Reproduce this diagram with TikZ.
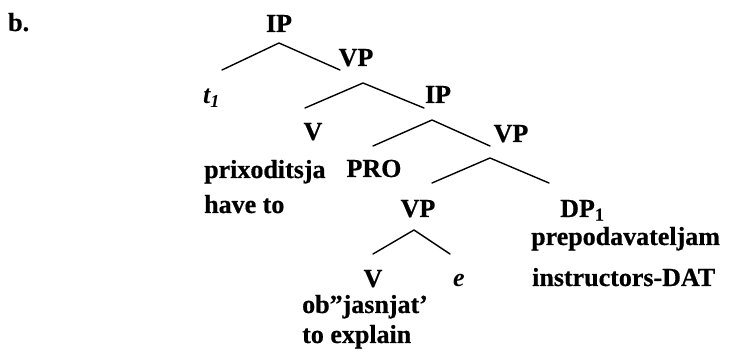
\documentclass[tikz,border=0pt]{standalone}
\usepackage{fontspec}
\setmainfont{Liberation Serif}[BoldFeatures={FakeBold=0.6}]
\begin{document}
\begin{tikzpicture}[x=1pt,y=-1pt,
  lab/.style={inner sep=0pt,anchor=base,font=\fontsize{26}{30}\selectfont\bfseries},
  labl/.style={lab,anchor=base west},
  branch/.style={line width=1.4pt,line cap=round,line join=round}]
\useasboundingbox (0,0) rectangle (740,358);
% labels
\node[labl] (b) at (8,31) {b.};
\node[lab] (ip1) at (279,32) {IP};
\node[lab] (vp1) at (356,66) {VP};
\node[labl] (t1) at (203,104) {\itshape t\textsubscript{1}};
\node[lab] (v1) at (313,140) {V};
\node[lab] (ip2) at (438,103) {IP};
\node[lab] (vp2) at (511,142) {VP};
\node[labl] (prix) at (204,178) {prixoditsja};
\node[labl] (have) at (204,213) {have to};
\node[lab] (pro) at (374,177) {PRO};
\node[lab] (vp3) at (418,217) {VP};
\node[labl] (dp) at (560,217) {DP\textsubscript{1}};
\node[labl] (prep) at (531,245) {prepodavateljam};
\node[labl] (instr) at (532,286) {instructors-DAT};
\node[lab] (v2) at (373,287) {V};
\node[lab] (e) at (459,287) {\itshape e};
\node[labl] (obj) at (302,313) {ob”jasnjat’};
\node[labl] (expl) at (302,343) {to explain};
% branch points
\coordinate (a1) at (279,43);
\coordinate (l1) at (222,70);
\coordinate (r1) at (340,70);
\coordinate (a2) at (363,83);
\coordinate (l2) at (305,108);
\coordinate (r2) at (424,108);
\coordinate (a3) at (432,120);
\coordinate (l3) at (373,146);
\coordinate (r3) at (490,146);
\coordinate (a4) at (490,158);
\coordinate (l4) at (432,183);
\coordinate (r4) at (549,183);
\coordinate (a5) at (414,230);
\coordinate (l5) at (373,254);
\coordinate (r5) at (450,254);
\draw[branch] (l1) -- (a1) -- (r1);
\draw[branch] (l2) -- (a2) -- (r2);
\draw[branch] (l3) -- (a3) -- (r3);
\draw[branch] (l4) -- (a4) -- (r4);
\draw[branch] (l5) -- (a5) -- (r5);
\end{tikzpicture}
\end{document}
